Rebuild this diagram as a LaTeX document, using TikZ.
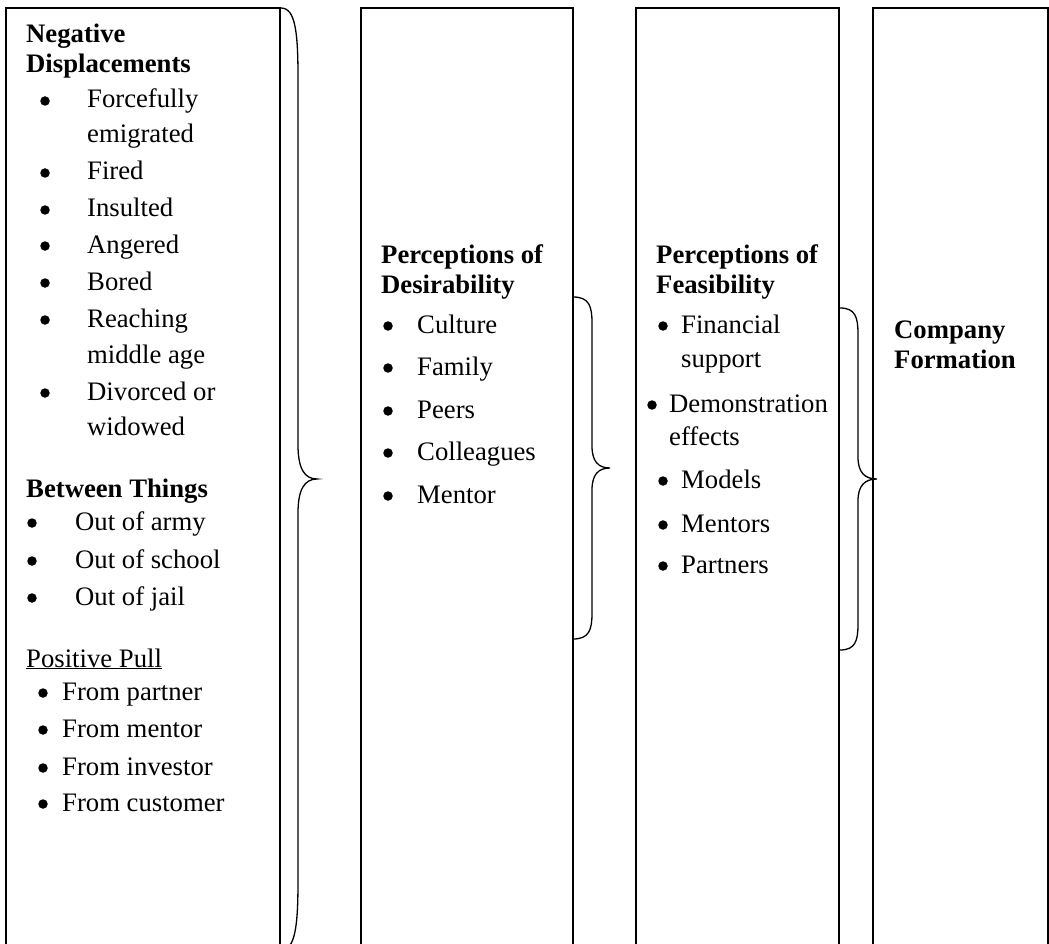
\documentclass[tikz,border=0pt]{standalone}
\usepackage{fontspec}
\setmainfont{Liberation Serif}
\newcommand\fs{\fontsize{26.7}{30}\selectfont}
\tikzset{
  box/.style={line width=1.4pt},
  brc/.style={line width=1.3pt},
  txt/.style={anchor=base west, inner sep=0pt, font=\fs},
  hd/.style={anchor=base west, inner sep=0pt, font=\fs\bfseries},
  bul/.style={circle, fill=black, inner sep=0pt, minimum size=9.5pt},
}
% name, bullet x, text x, baseline y, text
\newcommand\myitem[5]{%
  \node[bul] (#1b) at (#2,#4-7) {};
  \node[txt] (#1) at (#3,#4) {#5};}
% x0, xv, xtip, ytop, ybot, end curve, mid curve, name
\newcommand\wbrace[8]{%
  \coordinate (#8t) at (#1,#4);
  \coordinate (#8m) at (#3,{(#4+#5)/2});
  \coordinate (#8e) at (#1,#5);
  \draw[brc] (#8t) .. controls ({#1+0.85*(#2-#1)},#4) and (#2,{#4+0.35*#6}) .. (#2,#4+#6)
    -- ({#2},{(#4+#5)/2-#7}) .. controls ({#2},{(#4+#5)/2-0.3*#7}) and ({#2+0.35*(#3-#2)},{(#4+#5)/2}) .. (#8m)
    .. controls ({#2+0.35*(#3-#2)},{(#4+#5)/2}) and ({#2},{(#4+#5)/2+0.3*#7}) .. ({#2},{(#4+#5)/2+#7})
    -- (#2,#5-#6) .. controls (#2,{#5-0.35*#6}) and ({#1+0.85*(#2-#1)},#5) .. (#8e);}
\begin{document}
\begin{tikzpicture}[x=1pt,y=-1pt]
\useasboundingbox (0,0) rectangle (1049,944);
\clip (0,0) rectangle (1049,944);
% boxes
\draw[box] (6,970) -- (6,8) -- (280,8) -- (280,970);
\draw[box] (361,970) -- (361,8) -- (573,8) -- (573,970);
\draw[box] (636,970) -- (636,8) -- (839,8) -- (839,970);
\draw[box] (873,970) -- (873,8) -- (1048,8) -- (1048,970);
% braces
\wbrace{281}{298}{317}{8}{950}{70}{34}{bA}
\wbrace{573}{592}{610}{297}{639}{26}{22}{bB}
\wbrace{840}{858}{877}{308}{650}{26}{22}{bC}
% box 1
\node[hd] (h1) at (26,43) {Negative};
\node[hd] (h1b) at (26,73) {Displacements};
\myitem{a1}{45}{87}{108}{Forcefully}
\node[txt] (a1c) at (87,143) {emigrated};
\myitem{a2}{45}{87}{180}{Fired}
\myitem{a3}{45}{87}{217}{Insulted}
\myitem{a4}{45}{87}{253}{Angered}
\myitem{a5}{45}{87}{290}{Bored}
\myitem{a6}{45}{87}{327}{Reaching}
\node[txt] (a6c) at (87,363) {middle age};
\myitem{a7}{45}{87}{400}{Divorced or}
\node[txt] (a7c) at (87,435) {widowed};
\node[hd] (h2) at (26,497) {Between Things};
\myitem{b1}{32}{75}{530}{Out of army}
\myitem{b2}{32}{75}{568}{Out of school}
\myitem{b3}{32}{75}{605}{Out of jail}
\node[txt] (h3) at (26,667) {\underline{Positive Pull}};
\myitem{c1}{43}{62}{700}{From partner}
\myitem{c2}{43}{62}{737}{From mentor}
\myitem{c3}{43}{62}{775}{From investor}
\myitem{c4}{43}{62}{811}{From customer}
% box 2
\node[hd] (h4) at (381,263) {Perceptions of};
\node[hd] (h4b) at (381,293) {Desirability};
\myitem{d1}{388}{417}{333}{Culture}
\myitem{d2}{388}{417}{375}{Family}
\myitem{d3}{388}{417}{418}{Peers}
\myitem{d4}{388}{417}{460}{Colleagues}
\myitem{d5}{388}{417}{503}{Mentor}
% box 3
\node[hd] (h5) at (656,263) {Perceptions of};
\node[hd] (h5b) at (656,293) {Feasibility};
\myitem{e1}{663}{681}{333}{Financial}
\node[txt] (e1c) at (681,367) {support};
\myitem{e2}{652}{669}{412}{Demonstration}
\node[txt] (e2c) at (669,445) {effects};
\myitem{e3}{663}{681}{488}{Models}
\myitem{e4}{663}{681}{532}{Mentors}
\myitem{e5}{663}{681}{573}{Partners}
% box 4
\node[hd] (h6) at (894,338) {Company};
\node[hd] (h6b) at (894,368) {Formation};
\end{tikzpicture}
\end{document}
